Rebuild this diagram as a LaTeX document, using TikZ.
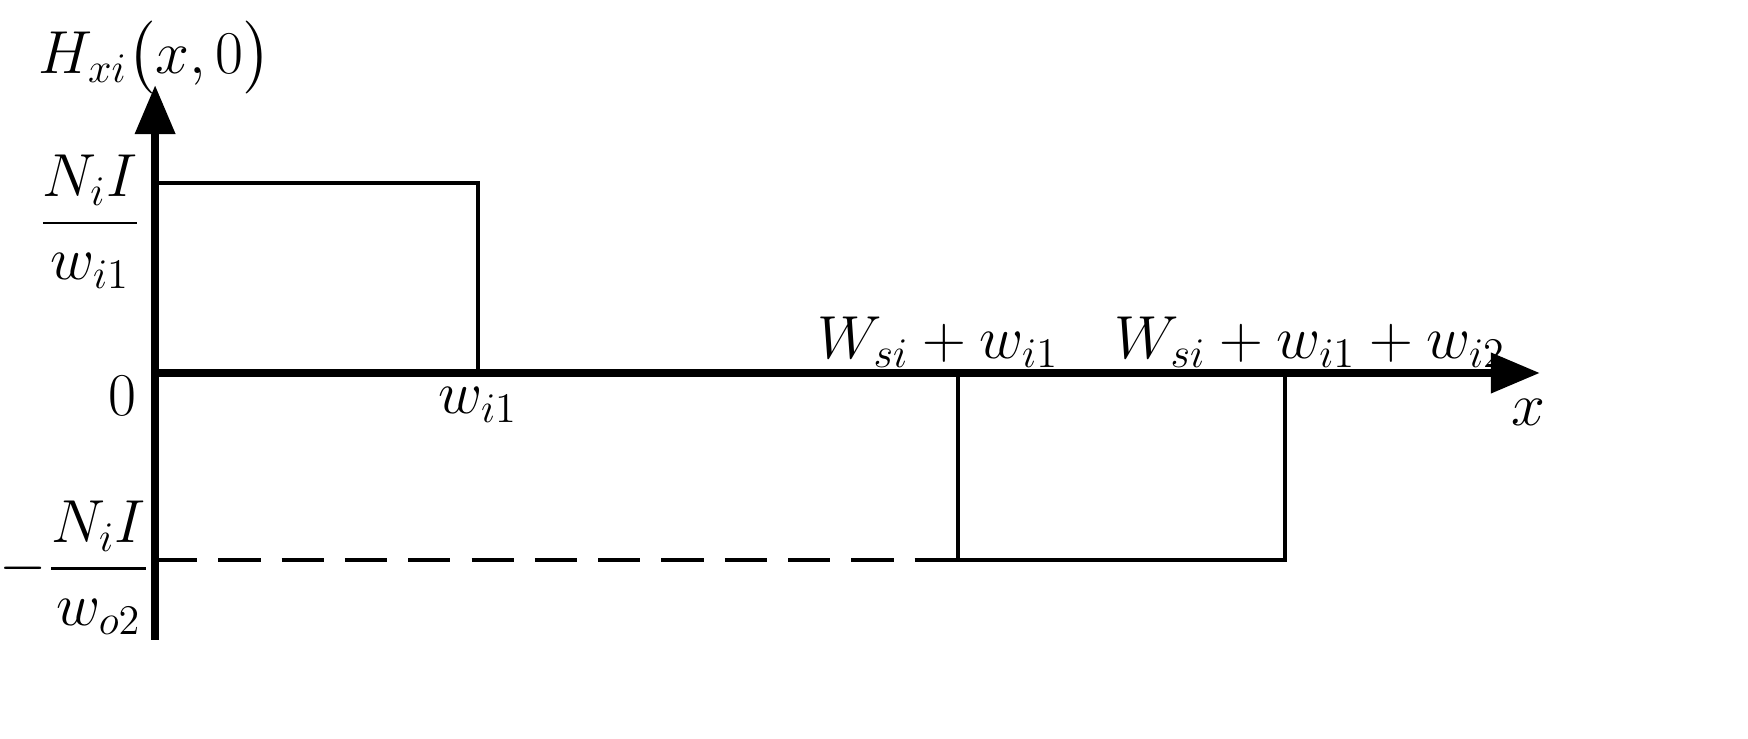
\documentclass[tikz,border=0pt]{standalone}
\usepackage{amsmath}
\usepackage{fontspec}
\setmainfont{Liberation Serif}
\usetikzlibrary{arrows.meta}
\begin{document}
\begin{tikzpicture}[x=0.01cm,y=-0.01cm,
  ax/.style={line width=2.4pt,-{Triangle[length=14pt,width=11pt]}},
  ln/.style={line width=1.1pt},
  lb/.style={font=\fontsize{17}{20}\selectfont,inner sep=0pt}]
\fill[white] (0,0) rectangle (1748,739);
\coordinate (o) at (155,373);
\coordinate (ytop) at (155,85);
\coordinate (ybot) at (155,640);
\coordinate (xend) at (1540,373);
\draw[ax] (ybot) -- (ytop);
\draw[ax] (o) -- (xend);
\coordinate (a1) at (155,183);
\coordinate (a2) at (478,183);
\coordinate (a3) at (478,373);
\draw[ln] (a1) -- (a2) -- (a3);
\coordinate (b1) at (958,373);
\coordinate (b2) at (958,560);
\coordinate (b3) at (1285,560);
\coordinate (b4) at (1285,373);
\draw[ln] (b1) -- (b2) -- (b3) -- (b4);
\coordinate (d1) at (155,560);
\draw[ln,dash pattern=on 12pt off 6pt] (d1) -- (b2);
\node[lb] (h) at (155,58) {$H_{xi}\big(x,0\big)$};
\node[lb] (f1) at (90,222) {$\dfrac{N_iI}{w_{i1}}$};
\node[lb] (z) at (122,396) {$0$};
\node[lb] (w1) at (478,405) {$w_{i1}$};
\node[lb] (l1) at (938,342) {$W_{si}+w_{i1}$};
\node[lb] (l2) at (1310,342) {$W_{si}+w_{i1}+w_{i2}$};
\node[lb] (xl) at (1528,412) {$x$};
\node[lb] (f2) at (75,568) {$-\dfrac{N_iI}{w_{o2}}$};
\end{tikzpicture}
\end{document}
